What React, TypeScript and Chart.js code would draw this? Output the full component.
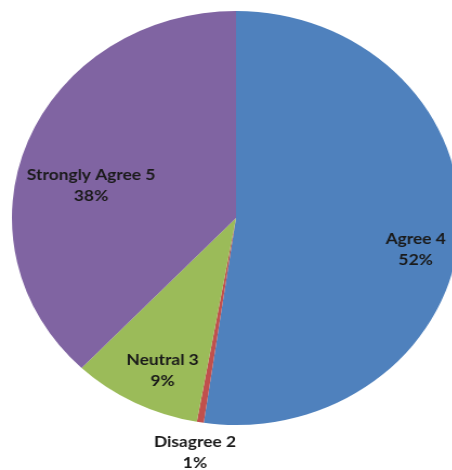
import { useEffect, useRef } from "react";
import { Chart, ArcElement, PieController } from "chart.js";
import type { Plugin } from "chart.js";

Chart.register(ArcElement, PieController);

// Survey answers, share of respondents (%)
const categories = ["Agree 4", "Disagree 2", "Neutral 3", "Strongly Agree 5"];
const shares = [52.3, 0.5, 9.3, 37.9];
const sliceColors = ["#4F81BD", "#C0504D", "#9BBB59", "#8064A2"];

// Horizontal stretch applied to the whole drawing (the pie renders as an ellipse)
const STRETCH_X = 1.0826;

// Category name + rounded percentage, fitted inside the slice (or just outside for tiny slices)
const sliceLabels: Plugin<"pie"> = {
  id: "sliceLabels",
  afterDatasetsDraw(chart) {
    const ctx = chart.ctx;
    const meta = chart.getDatasetMeta(0);
    const values = chart.data.datasets[0].data as number[];
    const total = values.reduce((a, b) => a + b, 0);
    const lineH = 21;
    ctx.save();
    ctx.font = "bold 16px Lato, 'Liberation Sans', sans-serif";
    ctx.fillStyle = "#1a1a1a";
    ctx.textAlign = "center";
    ctx.textBaseline = "middle";
    meta.data.forEach((el, i) => {
      const { x, y, startAngle, endAngle, outerRadius } = (el as any).getProps(
        ["x", "y", "startAngle", "endAngle", "outerRadius"],
        true
      );
      const mid = (startAngle + endAngle) / 2;
      const cos = Math.cos(mid);
      const sin = Math.sin(mid);
      const lines = [
        String((chart.data.labels as string[])[i]),
        `${Math.round((values[i] * 100) / total)}%`,
      ];
      const hw = Math.max(...lines.map((t) => ctx.measureText(t).width)) / 2;
      const hh = (lines.length * lineH) / 2;
      const farCorner = (px: number, py: number) =>
        Math.max(
          ...[
            [-1, -1],
            [1, -1],
            [1, 1],
            [-1, 1],
          ].map(([sx, sy]) => Math.hypot(px + sx * hw, py + sy * hh))
        );
      let ox: number;
      let oy: number;
      if (values[i] / total < 0.03) {
        const d = outerRadius + 4 + Math.abs(cos) * hw + Math.abs(sin) * hh;
        ox = d * cos;
        oy = d * sin;
      } else {
        // farthest point along the mid-angle ray where the block still fits
        let lo = 0;
        let hi = outerRadius;
        for (let k = 0; k < 30; k++) {
          const m = (lo + hi) / 2;
          if (farCorner(m * cos, m * sin) <= outerRadius) lo = m;
          else hi = m;
        }
        // drop the block by one line, then pull it back toward the centre
        // until it sits inside the edge with a small margin
        const inner = outerRadius * 0.97;
        const px = lo * cos;
        const py = lo * sin + lineH;
        let s0 = 0;
        let s1 = 1;
        if (farCorner(px, py) <= inner) s0 = 1;
        else
          for (let k = 0; k < 30; k++) {
            const m = (s0 + s1) / 2;
            if (farCorner(px * m, py * m) <= inner) s0 = m;
            else s1 = m;
          }
        ox = px * s0;
        oy = py * s0;
      }
      const lx = x + ox;
      const ly = y + oy;
      lines.forEach((t, j) =>
        ctx.fillText(t, lx, ly + (j - (lines.length - 1) / 2) * lineH)
      );
    });
    ctx.restore();
  },
};

export default function App() {
  const canvasRef = useRef<HTMLCanvasElement | null>(null);

  useEffect(() => {
    if (!canvasRef.current) return;
    const chart = new Chart(canvasRef.current, {
      type: "pie",
      data: {
        labels: categories,
        datasets: [
          {
            data: shares,
            backgroundColor: sliceColors,
            borderWidth: 0,
          },
        ],
      },
      options: {
        responsive: false,
        animation: false,
        layout: { padding: { top: 11, bottom: 45, left: 11, right: 11 } },
        plugins: {
          legend: { display: false },
          tooltip: { enabled: false },
        },
      },
      plugins: [sliceLabels],
    });
    return () => chart.destroy();
  }, []);

  return (
    <div
      style={{
        position: "fixed",
        top: 0,
        left: 0,
        width: 452,
        height: 470,
        overflow: "hidden",
        background: "#ffffff",
      }}
    >
      <canvas
        ref={canvasRef}
        width={436}
        height={470}
        style={{ transform: `scaleX(${STRETCH_X})`, transformOrigin: "0 0" }}
      />
    </div>
  );
}
